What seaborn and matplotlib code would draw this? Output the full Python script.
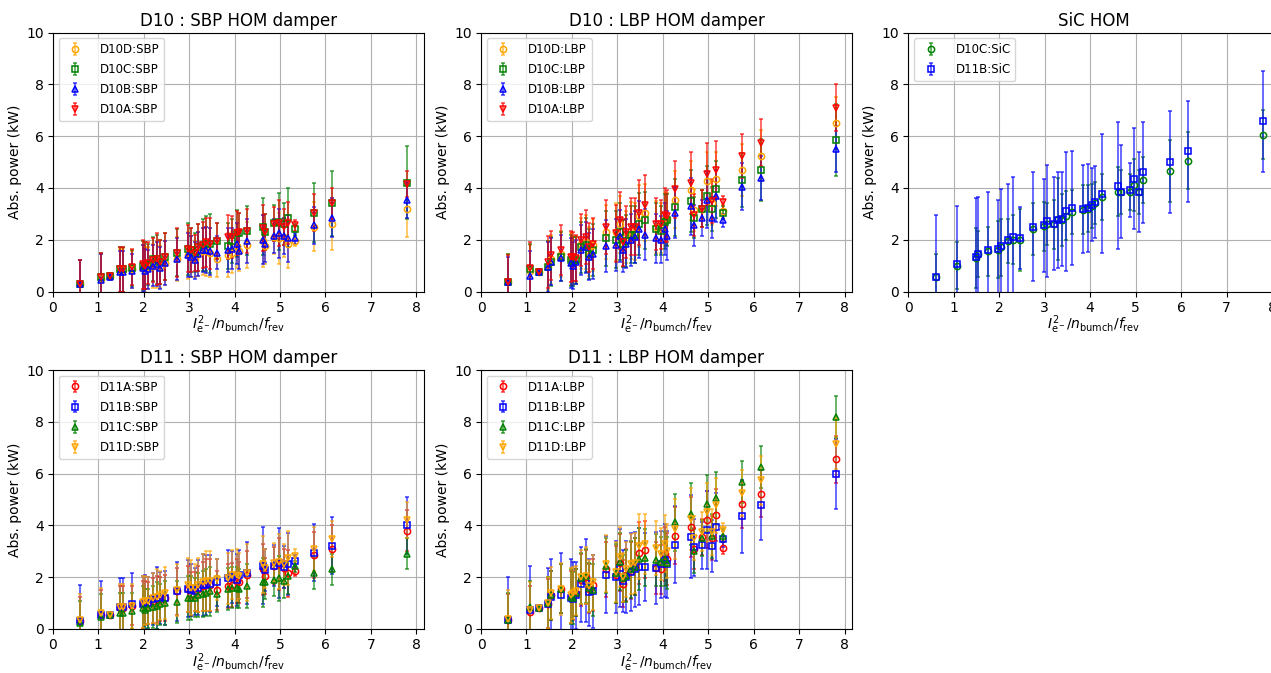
import numpy as np
import matplotlib
matplotlib.use("Agg")
import matplotlib.pyplot as plt
import seaborn as sns
from matplotlib.colors import to_rgba

nan = np.nan

# common beam-current axis (I^2 / n_bunch / f_rev)
x = [0.60, 1.07, 1.27, 1.48, 1.54, 1.75, 1.98, 2.03, 2.10, 2.20, 2.30, 2.37, 2.46, 2.74, 2.98, 3.05, 3.12, 3.20,
     3.30, 3.38, 3.47, 3.61, 3.85, 3.95, 4.05, 4.10, 4.27, 4.62, 4.68, 4.87, 4.97, 5.08, 5.17, 5.32, 5.75, 6.15, 7.80]

# D10 SBP
d10d_sbp = [0.30, 0.50, 0.60, 0.80, 0.82, 0.85, 0.90, 0.85, 0.90, 1.00, 1.05, 0.95, 1.10, 1.25, 1.40, 1.35, 1.25, 1.45,
            1.55, 1.55, 1.50, 1.25, 1.40, 1.50, 1.75, 1.55, 1.80, 1.95, 1.75, 2.10, 2.05, 2.10, 1.85, 1.95, 2.50, 2.62, 3.20]
d10c_sbp = [0.30, 0.55, 0.60, 0.85, 0.85, 0.90, 1.00, 1.00, 1.05, 1.25, 1.25, 1.15, 1.35, 1.50, 1.65, 1.60, 1.50, 1.70,
            1.80, 1.85, 1.85, 1.95, 1.75, 1.95, 2.25, 2.25, 2.35, 2.50, 2.30, 2.65, 2.70, 2.60, 2.85, 2.40, 3.05, 3.40, 4.20]
d10b_sbp = [0.30, 0.45, 0.55, 0.75, 0.75, 0.80, 0.90, 0.80, 0.85, 1.00, 1.05, 0.90, 1.10, 1.25, 1.40, 1.35, 1.20, 1.45,
            1.60, 1.60, 1.55, 1.50, 1.60, 1.65, 1.85, 1.55, 1.95, 2.00, 1.85, 2.15, 2.25, 2.15, 2.05, 2.05, 2.55, 2.85, 3.52]
d10a_sbp = [0.30, 0.55, 0.60, 0.85, 0.85, 0.95, 1.05, 1.00, 1.10, 1.20, 1.25, 1.15, 1.35, 1.50, 1.65, 1.60, 1.50, 1.70,
            1.80, 1.90, 1.85, 1.95, 2.10, 2.10, 2.25, 2.30, 2.35, 2.45, 2.30, 2.60, 2.65, 2.50, 2.65, 2.55, 3.05, 3.40, 4.15]
d10d_sbp_err = [0.90, 0.95, 0.10, 0.85, 0.85, 0.70, 0.90, 0.85, 0.80, 0.85, 0.90, 0.80, 0.85, 0.85, 0.90, 0.80, 0.70, 0.85,
                0.90, 0.95, 0.95, 0.70, 0.85, 0.80, 0.85, 0.75, 0.90, 1.00, 0.70, 0.65, 1.00, 0.75, 0.95, 0.20, 0.95, 1.00, 1.10]
d10c_sbp_err = [0.90, 0.95, 0.10, 0.85, 0.85, 0.70, 0.95, 0.90, 0.80, 0.85, 0.95, 0.85, 0.90, 0.90, 1.00, 0.85, 0.75, 0.90,
                1.00, 1.05, 1.15, 0.70, 0.90, 0.85, 0.90, 0.80, 0.95, 1.10, 0.70, 0.70, 1.10, 0.80, 1.15, 0.20, 1.15, 1.25, 1.40]
d10b_sbp_err = [0.90, 1.00, 0.10, 0.80, 0.80, 0.65, 0.90, 0.85, 0.75, 0.80, 0.85, 0.80, 0.85, 0.80, 0.85, 0.80, 0.70, 0.85,
                0.85, 0.90, 0.90, 0.65, 0.85, 0.80, 0.80, 0.70, 0.85, 0.95, 0.70, 0.65, 0.95, 0.70, 0.90, 0.20, 0.70, 0.75, 0.70]
d10a_sbp_err = [0.90, 0.95, 0.10, 0.85, 0.85, 0.70, 0.95, 0.90, 0.80, 0.85, 1.00, 0.85, 0.90, 0.95, 0.90, 0.85, 0.70, 0.90,
                0.90, 0.95, 1.00, 0.70, 0.85, 0.80, 0.85, 0.75, 0.85, 0.90, 0.70, 0.65, 0.90, 0.70, 0.80, 0.20, 0.70, 0.60, 0.50]

# D10 LBP
d10d_lbp = [0.35, 0.80, 0.75, 1.00, 1.25, 1.45, 1.25, 1.20, 1.25, 1.85, 1.90, 1.55, 1.80, 2.30, 2.30, 2.60, 1.85, 2.10,
            2.35, 2.30, 2.90, 3.05, 2.50, 2.45, 2.80, 2.80, 3.55, 3.90, 3.15, 3.20, 4.25, 3.40, 4.35, 3.10, 4.70, 5.25, 6.50]
d10c_lbp = [0.35, 0.85, 0.75, 0.95, 1.15, 1.35, 1.20, 1.15, 1.20, 1.70, 1.80, 1.45, 1.60, 2.05, 2.00, 2.30, 1.85, 1.95,
            2.20, 2.20, 2.60, 2.75, 2.40, 2.35, 2.70, 2.75, 3.25, 3.50, 2.85, 3.20, 3.70, 3.20, 3.95, 3.05, 4.30, 4.70, 5.85]
d10b_lbp = [0.35, 0.60, 0.75, 0.95, 1.15, 1.30, 1.10, 1.00, 1.15, 1.60, 1.70, 1.35, 1.45, 1.75, 1.80, 2.15, 1.60, 1.85,
            2.00, 2.10, 2.40, 2.20, 2.05, 2.00, 2.40, 2.15, 3.05, 3.30, 2.55, 2.85, 3.55, 2.85, 3.70, 2.75, 4.05, 4.40, 5.50]
d10a_lbp = [0.35, 0.90, 0.75, 1.15, 1.40, 1.60, 1.35, 1.35, 1.30, 2.00, 2.10, 1.70, 1.85, 2.50, 2.25, 2.75, 1.90, 2.30,
            2.50, 2.50, 3.05, 3.35, 2.60, 2.60, 2.95, 2.90, 3.95, 4.20, 2.95, 3.20, 4.55, 3.50, 4.70, 3.45, 5.25, 5.75, 7.10]
d10d_lbp_err = [1.10, 1.00, 0.10, 0.95, 0.95, 0.90, 1.00, 0.95, 0.90, 1.00, 1.05, 0.95, 1.00, 1.05, 1.10, 1.10, 0.90, 1.00,
                1.10, 1.10, 1.20, 1.10, 1.00, 0.95, 1.05, 1.00, 1.10, 1.15, 0.80, 0.70, 1.15, 0.85, 1.05, 0.25, 1.00, 1.00, 1.00]
d10c_lbp_err = [1.10, 1.00, 0.10, 1.00, 0.95, 0.95, 1.00, 0.95, 0.90, 1.00, 1.05, 0.95, 1.00, 1.05, 1.10, 1.10, 0.90, 1.00,
                1.10, 1.10, 1.20, 1.10, 1.00, 0.95, 1.05, 1.00, 1.10, 1.20, 0.80, 0.70, 1.15, 0.85, 1.10, 0.25, 1.05, 1.20, 1.40]
d10b_lbp_err = [1.00, 0.95, 0.10, 0.95, 0.90, 0.90, 0.95, 0.90, 0.85, 0.95, 1.00, 0.90, 0.95, 1.00, 1.00, 1.00, 0.85, 0.95,
                1.00, 1.00, 1.10, 1.00, 0.95, 0.90, 1.00, 0.95, 1.00, 1.10, 0.80, 0.70, 1.10, 0.80, 1.00, 0.25, 0.90, 0.85, 0.90]
d10a_lbp_err = [1.05, 1.00, 0.10, 1.00, 0.95, 0.95, 1.00, 0.95, 0.90, 1.00, 1.05, 0.95, 1.00, 1.05, 1.10, 1.10, 0.90, 1.00,
                1.10, 1.10, 1.25, 1.15, 1.00, 0.95, 1.05, 1.00, 1.10, 1.20, 0.80, 0.70, 1.20, 0.85, 1.10, 0.25, 0.85, 0.90, 0.90]

# SiC
d10c_sic = [0.55, 1.00, nan, 1.30, 1.45, 1.55, 1.62, 1.70, nan, 1.95, 2.00, nan, 2.00, 2.40, 2.52, 2.60, nan, 2.60,
            2.80, 2.75, 2.92, 3.06, 3.16, 3.20, 3.30, 3.42, 3.65, 3.85, 3.85, 3.85, 4.12, 3.85, 4.31, nan, 4.66, 5.05, 6.05]
d11b_sic = [0.55, 1.05, nan, 1.32, 1.45, 1.60, 1.65, 1.75, nan, 2.00, 2.12, nan, 2.06, 2.50, 2.55, 2.72, nan, 2.62,
            2.77, 2.80, 3.10, 3.22, 3.20, 3.22, 3.35, 3.45, 3.78, 4.08, 3.85, 3.92, 4.36, 3.85, 4.60, nan, 5.00, 5.42, 6.58]
d10c_sic_err = [0.90, 0.90, nan, 1.15, 0.90, 0.95, 1.10, 1.10, nan, 0.85, 0.95, nan, 1.20, 1.00, 0.95, 0.80, nan, 0.95,
                1.60, 1.00, 0.95, 0.85, 0.95, 0.90, 0.85, 0.80, 0.90, 0.95, 0.85, 0.70, 1.00, 0.85, 0.90, nan, 1.20, 1.10, 0.95]
d11b_sic_err = [2.40, 2.25, nan, 2.30, 2.20, 2.25, 1.90, 2.20, nan, 2.15, 2.30, nan, 1.20, 2.10, 1.80, 2.15, nan, 1.80,
                1.85, 1.80, 2.30, 2.20, 1.70, 1.70, 1.40, 1.40, 2.30, 2.45, 1.80, 1.05, 1.95, 1.55, 1.95, nan, 1.95, 1.95, 1.95]

# D11 SBP
d11a_sbp = [0.30, 0.55, 0.55, 0.80, 0.80, 0.90, 0.95, 1.00, 1.00, 1.10, 1.15, 1.15, 1.20, 1.45, 1.55, 1.35, 1.45, 1.55,
            1.65, 1.70, 1.70, 1.50, 1.65, 1.70, 1.85, 1.80, 2.10, 2.30, 2.05, 2.45, 2.50, 2.35, 2.15, 2.25, 2.85, 3.10, 3.80]
d11b_sbp = [0.30, 0.55, 0.55, 0.85, 0.85, 0.95, 0.95, 1.05, 1.00, 1.15, 1.20, 1.20, 1.20, 1.45, 1.55, 1.50, 1.45, 1.60,
            1.70, 1.70, 1.75, 1.80, 1.95, 2.00, 1.90, 2.10, 2.15, 2.45, 2.28, 2.45, 2.55, 2.40, 2.50, 2.62, 2.95, 3.22, 4.00]
d11c_sbp = [0.25, 0.45, 0.55, 0.60, 0.60, 0.70, 0.80, 0.75, 0.80, 0.85, 0.90, 0.95, 1.00, 1.05, 1.20, 1.20, 1.20, 1.30,
            1.35, 1.40, 1.45, 1.35, 1.55, 1.60, 1.60, 1.55, 1.65, 1.80, 1.80, 1.88, 1.95, 1.85, 2.05, 2.42, 2.15, 2.30, 2.90]
d11d_sbp = [0.35, 0.60, 0.55, 0.85, 0.85, 0.90, 1.05, 1.10, 1.10, 1.20, 1.25, 1.30, 1.40, 1.50, 1.70, 1.60, 1.60, 1.70,
            1.80, 1.85, 1.85, 1.92, 1.95, 2.10, 2.10, 2.05, 2.18, 2.50, 2.35, 2.56, 2.60, 2.50, 2.75, 2.82, 3.10, 3.48, 4.20]
d11a_sbp_err = [0.95, 0.95, 0.10, 0.85, 0.85, 0.75, 0.90, 0.85, 0.80, 0.85, 0.90, 0.85, 0.90, 0.90, 0.90, 0.85, 0.75, 0.90,
                0.95, 1.00, 1.00, 0.75, 0.85, 0.85, 0.85, 0.80, 0.90, 1.00, 0.70, 0.70, 1.00, 0.75, 0.90, 0.20, 0.90, 0.90, 0.80]
d11b_sbp_err = [1.40, 1.30, 0.10, 1.10, 1.10, 1.20, 1.10, 1.05, 1.00, 1.00, 1.20, 1.00, 1.05, 1.15, 1.10, 1.00, 0.90, 1.05,
                1.20, 1.15, 1.10, 0.90, 1.10, 1.00, 1.00, 0.95, 1.20, 1.50, 0.80, 0.80, 1.35, 0.80, 1.20, 0.25, 1.10, 1.10, 1.10]
d11c_sbp_err = [0.85, 0.90, 0.10, 0.80, 0.80, 0.70, 0.85, 0.80, 0.75, 0.80, 0.90, 0.80, 0.85, 0.80, 0.85, 0.85, 0.75, 0.85,
                0.90, 0.90, 0.95, 0.70, 0.80, 0.80, 0.80, 0.75, 0.85, 0.95, 0.65, 0.60, 0.85, 0.65, 0.70, 0.20, 0.60, 0.60, 0.60]
d11d_sbp_err = [1.00, 1.00, 0.10, 0.90, 0.90, 0.85, 1.00, 0.95, 0.90, 0.95, 1.05, 0.95, 1.00, 1.00, 1.05, 1.05, 0.90, 1.05,
                1.10, 1.15, 1.15, 0.80, 1.00, 0.95, 1.00, 0.90, 1.10, 1.10, 0.75, 0.75, 1.05, 0.80, 1.05, 0.25, 0.85, 0.70, 0.70]

# D11 LBP
d11a_lbp = [0.35, 0.65, 0.80, 0.97, 1.30, 1.55, 1.25, 1.30, 1.40, 1.90, 2.00, 1.55, 1.70, 2.30, 2.10, 2.55, 1.75, 2.10,
            2.25, 2.40, 2.93, 3.06, 2.35, 2.30, 2.90, 2.70, 3.61, 3.94, 3.10, 3.55, 4.22, 3.50, 4.39, 3.14, 4.81, 5.23, 6.55]
d11b_lbp = [0.35, 0.75, 0.80, 0.95, 1.22, 1.33, 1.20, 1.15, 1.30, 1.72, 1.87, 1.42, 1.45, 2.10, 2.00, 2.36, 1.85, 2.00,
            2.20, 2.30, 2.41, 2.40, 2.35, 2.50, 2.65, 2.50, 3.26, 3.57, 3.16, 3.23, 3.83, 3.20, 3.94, 3.48, 4.35, 4.80, 5.97]
d11c_lbp = [0.35, 0.85, 0.80, 1.00, 1.30, 1.55, 1.25, 1.20, 1.40, 1.95, 2.05, 1.60, 1.50, 2.45, 2.15, 2.60, 1.95, 2.05,
            2.30, 2.40, 2.71, 2.75, 2.65, 2.60, 2.70, 2.55, 4.13, 4.45, 3.03, 3.50, 4.84, 3.60, 5.07, 3.60, 5.68, 6.26, 8.19]
d11d_lbp = [0.40, 0.75, 0.80, 1.00, 1.38, 1.55, 1.30, 1.40, 1.48, 2.00, 2.05, 1.65, 1.80, 2.52, 2.20, 2.77, 2.00, 2.30,
            2.50, 2.55, 3.19, 3.29, 3.12, 2.90, 3.29, 3.00, 3.87, 4.26, 3.50, 3.75, 4.50, 3.75, 4.77, 3.83, 5.25, 5.74, 7.16]
d11a_lbp_err = [1.00, 1.00, 0.10, 0.95, 0.95, 0.95, 1.00, 0.95, 0.90, 1.00, 1.05, 0.95, 1.00, 1.05, 1.10, 1.10, 0.90, 1.00,
                1.10, 1.10, 1.20, 1.10, 1.00, 0.95, 1.05, 1.00, 1.10, 1.15, 0.80, 0.70, 1.10, 0.85, 1.00, 0.25, 0.90, 0.90, 0.90]
d11b_lbp_err = [1.65, 1.70, 0.10, 1.40, 1.50, 1.60, 1.50, 1.45, 1.30, 1.45, 1.60, 1.30, 1.40, 1.50, 1.40, 1.50, 1.20, 1.40,
                1.50, 1.45, 1.50, 1.30, 1.40, 1.30, 1.40, 1.30, 1.50, 1.60, 1.10, 0.90, 1.50, 1.00, 1.30, 0.30, 1.40, 1.35, 1.35]
d11c_lbp_err = [1.05, 1.00, 0.10, 1.00, 0.95, 0.95, 1.05, 1.00, 0.90, 1.00, 1.05, 0.95, 1.00, 1.05, 1.15, 1.10, 0.90, 1.00,
                1.10, 1.10, 1.20, 1.10, 1.00, 0.95, 1.05, 1.00, 1.10, 1.20, 0.85, 0.70, 1.10, 0.85, 1.00, 0.25, 0.80, 0.80, 0.80]
d11d_lbp_err = [1.10, 1.05, 0.10, 1.00, 1.00, 1.00, 1.05, 1.00, 0.95, 1.05, 1.10, 1.00, 1.05, 1.10, 1.15, 1.15, 0.95, 1.05,
                1.15, 1.15, 1.25, 1.15, 1.05, 1.00, 1.10, 1.05, 1.15, 1.20, 0.85, 0.75, 1.15, 0.90, 1.05, 0.25, 0.90, 0.95, 1.00]

panels = [
    ("D10 : SBP HOM damper", [
        ("D10D:SBP", d10d_sbp, d10d_sbp_err, "orange", "o"),
        ("D10C:SBP", d10c_sbp, d10c_sbp_err, "green", "s"),
        ("D10B:SBP", d10b_sbp, d10b_sbp_err, "blue", "^"),
        ("D10A:SBP", d10a_sbp, d10a_sbp_err, "red", "v")]),
    ("D10 : LBP HOM damper", [
        ("D10D:LBP", d10d_lbp, d10d_lbp_err, "orange", "o"),
        ("D10C:LBP", d10c_lbp, d10c_lbp_err, "green", "s"),
        ("D10B:LBP", d10b_lbp, d10b_lbp_err, "blue", "^"),
        ("D10A:LBP", d10a_lbp, d10a_lbp_err, "red", "v")]),
    ("SiC HOM", [
        ("D10C:SiC", d10c_sic, d10c_sic_err, "green", "o"),
        ("D11B:SiC", d11b_sic, d11b_sic_err, "blue", "s")]),
    ("D11 : SBP HOM damper", [
        ("D11A:SBP", d11a_sbp, d11a_sbp_err, "red", "o"),
        ("D11B:SBP", d11b_sbp, d11b_sbp_err, "blue", "s"),
        ("D11C:SBP", d11c_sbp, d11c_sbp_err, "green", "^"),
        ("D11D:SBP", d11d_sbp, d11d_sbp_err, "orange", "v")]),
    ("D11 : LBP HOM damper", [
        ("D11A:LBP", d11a_lbp, d11a_lbp_err, "red", "o"),
        ("D11B:LBP", d11b_lbp, d11b_lbp_err, "blue", "s"),
        ("D11C:LBP", d11c_lbp, d11c_lbp_err, "green", "^"),
        ("D11D:LBP", d11d_lbp, d11d_lbp_err, "orange", "v")]),
]

sns.set_style("ticks", {"axes.grid": True, "grid.color": "#b0b0b0", "axes.edgecolor": "black",
                        "xtick.color": "black", "ytick.color": "black", "text.color": "black",
                        "axes.labelcolor": "black"})
plt.rcParams["font.family"] = ["DejaVu Sans"]
plt.rcParams["grid.linewidth"] = 0.8

W, H = 1271, 673
fig = plt.figure(figsize=(W / 100, H / 100), dpi=100)

lefts = [52.7, 481, 908.3]
tops = [32.5, 370]
aw, ah = 371, 259

xlabel = r"$I_{\mathrm{e^-}}^2/n_{\mathrm{bumch}}/f_{\mathrm{rev}}$"

for i, (title, series) in enumerate(panels):
    r, c = divmod(i, 3)
    ax = fig.add_axes([lefts[c] / W, 1 - (tops[r] + ah) / H, aw / W, ah / H])
    for label, y, err, col, mk in series:
        ax.errorbar(x, y, yerr=err, fmt=mk, color=col, mfc="none", mec=col, mew=1.1, ms=4.5,
                    ecolor=to_rgba(col, 0.75), elinewidth=1.1, capsize=1.5, capthick=1, label=label)
    ax.set_xlim(0, 8.16)
    ax.set_ylim(0, 10)
    ax.set_xticks(range(0, 9))
    ax.set_yticks(range(0, 11, 2))
    ax.set_title(title, fontsize=12, pad=5)
    ax.set_xlabel(xlabel, fontsize=10, labelpad=-0.5)
    ax.set_ylabel("Abs. power (kW)", fontsize=10, labelpad=3)
    ax.tick_params(labelsize=10, direction="out", length=3.5, pad=3)
    for sp in ax.spines.values():
        sp.set_visible(True)
        sp.set_color("black")
    ax.legend(loc="upper left", fontsize=8.5, framealpha=0.8, edgecolor="#cccccc",
              borderaxespad=0.5, labelspacing=0.6, handletextpad=1.1)

fig.savefig("out.png", dpi=100)
